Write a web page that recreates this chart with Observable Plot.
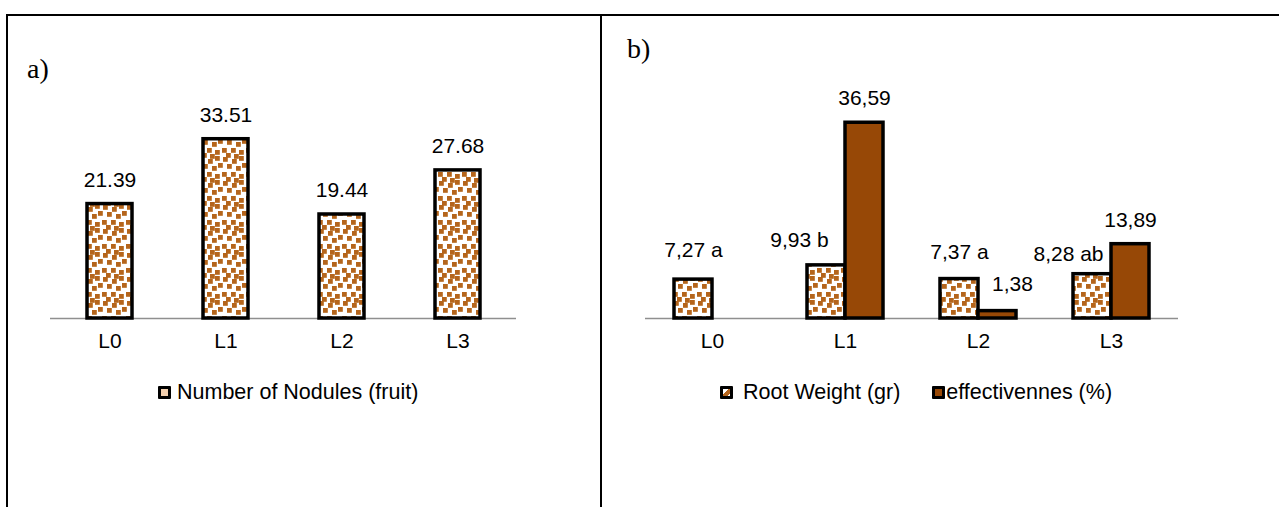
<!DOCTYPE html>
<html>
<head>
<meta charset="utf-8">
<script src="https://cdn.jsdelivr.net/npm/d3@7"></script>
<script src="https://cdn.jsdelivr.net/npm/@observablehq/plot@0.6"></script>
<style>
  html, body { margin:0; padding:0; background:#fff; }
  #page { position:relative; width:1279px; height:507px; overflow:hidden; background:#fff; font-family:"Liberation Sans", Arial, sans-serif; color:#000; }
  .line { position:absolute; background:#000; }
  .panel-label { position:absolute; font-family:"Liberation Serif", "Times New Roman", serif; font-size:28px; line-height:28px; }
  .plot { position:absolute; }
  .legend { position:absolute; height:24px; display:flex; align-items:center; font-size:21.5px; line-height:24px; white-space:nowrap; }
  .mk { display:inline-block; width:7px; height:7px; border:3px solid #000; box-sizing:content-box; border-radius:1px; }
</style>
</head>
<body>
<div id="page">
  <div class="line" style="left:6px; top:14px; width:1273px; height:2px;"></div>
  <div class="line" style="left:6px; top:14px; width:2px; height:493px;"></div>
  <div class="line" style="left:600px; top:14px; width:2px; height:493px;"></div>
  <div class="panel-label" style="left:27px; top:55px;">a)</div>
  <div class="panel-label" style="left:627px; top:35px;">b)</div>
  <div id="chartA" class="plot" style="left:30px; top:60px;"></div>
  <div id="chartB" class="plot" style="left:620px; top:60px;"></div>
  <div class="legend" style="left:158px; top:380px;">
    <span class="mk" style="background:#f3cfae;"></span><span style="margin-left:6px;">Number of Nodules (fruit)</span>
  </div>
  <div class="legend" style="left:720px; top:380px;">
    <span class="mk" style="background:linear-gradient(135deg,#fff 40%,#b5651d 40%,#b5651d 80%,#fff 80%);"></span><span style="margin-left:10px;">Root Weight (gr)</span>
    <span class="mk" style="background:#974806; margin-left:32px;"></span><span style="margin-left:1px;">effectivennes (%)</span>
  </div>
</div>
<script>
// ---- data ----
const categories = ["L0", "L1", "L2", "L3"];
const nodules = [21.39, 33.51, 19.44, 27.68];
const rootWeight = [7.27, 9.93, 7.37, 8.28];
const rootLetters = ["a", "b", "a", "ab"];
const effectiveness = [0, 36.59, 1.38, 13.89];

const EFF_COLOR = "#974806";
const DOT_COLOR = "#b5651d";
const FS = 21;

const dataA = categories.map((c, i) => ({cat: c, v: nodules[i]}));
const dataRoot = categories.map((c, i) => ({cat: c, v: rootWeight[i], letter: rootLetters[i]}));
const dataEff = categories.map((c, i) => ({cat: c, v: effectiveness[i]}));

const comma = v => v.toFixed(2).replace(".", ",");

function addPattern(svg, id) {
  const ns = "http://www.w3.org/2000/svg";
  const defs = document.createElementNS(ns, "defs");
  const flt = document.createElementNS(ns, "filter");
  flt.setAttribute("id", id + "blur");
  const gb = document.createElementNS(ns, "feGaussianBlur");
  gb.setAttribute("stdDeviation", 0.45);
  flt.appendChild(gb);
  defs.appendChild(flt);
  const pat = document.createElementNS(ns, "pattern");
  pat.setAttribute("id", id);
  pat.setAttribute("patternUnits", "userSpaceOnUse");
  pat.setAttribute("width", 24);
  pat.setAttribute("height", 24);
  const bg = document.createElementNS(ns, "rect");
  bg.setAttribute("width", 24); bg.setAttribute("height", 24); bg.setAttribute("fill", "#fff");
  pat.appendChild(bg);
  const g = document.createElementNS(ns, "g");
  g.setAttribute("filter", `url(#${id}blur)`);
  const spots = [[1,1],[10,3],[17,0],[5,8],[14,10],[20,7],[0,16],[9,16],[17,18],[4,21],[12,22]];
  for (const [sx, sy] of spots) {
    for (const [ox, oy] of [[0,0],[24,0],[0,24],[-24,0],[0,-24]]) {
      const r = document.createElementNS(ns, "rect");
      r.setAttribute("x", sx + ox); r.setAttribute("y", sy + oy);
      r.setAttribute("width", 4.8); r.setAttribute("height", 4.8);
      r.setAttribute("fill", DOT_COLOR);
      g.appendChild(r);
    }
  }
  pat.appendChild(g);
  defs.appendChild(pat);
  svg.insertBefore(defs, svg.firstChild);
}

const baseStyle = {fontFamily: "'Liberation Sans', Arial, sans-serif", fontSize: FS + "px", color: "#000", background: "transparent", overflow: "visible"};

// ---- chart a ----
const chartA = Plot.plot({
  width: 520, height: 300,
  marginLeft: 20, marginRight: 34, marginTop: 44, marginBottom: 42,
  style: baseStyle,
  x: {domain: categories, paddingInner: 0.614, paddingOuter: 0.307},
  y: {domain: [0, 40], axis: null},
  marks: [
    Plot.ruleY([0], {stroke: "#8f8f8f", strokeWidth: 1.5}),
    Plot.barY(dataA, {x: "cat", y: "v", fill: "url(#patA)", stroke: "#000", strokeWidth: 3.5}),
    Plot.text(dataA, {x: "cat", y: "v", text: d => d.v.toFixed(2), dy: -24, fontSize: FS, fill: "#000"}),
    Plot.axisX({tickSize: 0, tickPadding: 15, fontSize: FS, label: null})
  ]
});
addPattern(chartA, "patA");
document.getElementById("chartA").appendChild(chartA);

// ---- chart b ----
const half = 19;
const rootNudge = {L0: {dx: 0, dy: -29}, L1: {dx: -27, dy: -25}, L2: {dx: 0, dy: -27}, L3: {dx: -24, dy: -20}};
const effNudge = {L0: {dx: 0, dy: -24}, L1: {dx: 0, dy: -24}, L2: {dx: 15, dy: -27}, L3: {dx: 0, dy: -24}};

const chartB = Plot.plot({
  width: 580, height: 300,
  marginLeft: 25, marginRight: 22, marginTop: 44, marginBottom: 42,
  style: baseStyle,
  x: {domain: categories, paddingInner: 0.715, paddingOuter: 0.3575},
  y: {domain: [0, 40], axis: null},
  marks: [
    Plot.ruleY([0], {stroke: "#8f8f8f", strokeWidth: 1.5}),
    Plot.barY(dataRoot, {x: "cat", y: "v", dx: -half, fill: "url(#patB)", stroke: "#000", strokeWidth: 3.5}),
    Plot.barY(dataEff, {filter: d => d.v > 0, x: "cat", y: "v", dx: half, fill: EFF_COLOR, stroke: "#000", strokeWidth: 3.5}),
    ...categories.map(c => Plot.text(dataRoot, {filter: d => d.cat === c, x: "cat", y: "v",
      text: d => comma(d.v) + " " + d.letter, dx: -half + rootNudge[c].dx, dy: rootNudge[c].dy, fontSize: FS, fill: "#000"})),
    ...categories.map(c => Plot.text(dataEff, {filter: d => d.cat === c && d.v > 0, x: "cat", y: "v",
      text: d => comma(d.v), dx: half + effNudge[c].dx, dy: effNudge[c].dy, fontSize: FS, fill: "#000"})),
    Plot.axisX({tickSize: 0, tickPadding: 15, fontSize: FS, label: null})
  ]
});
addPattern(chartB, "patB");
document.getElementById("chartB").appendChild(chartB);
</script>
</body>
</html>
